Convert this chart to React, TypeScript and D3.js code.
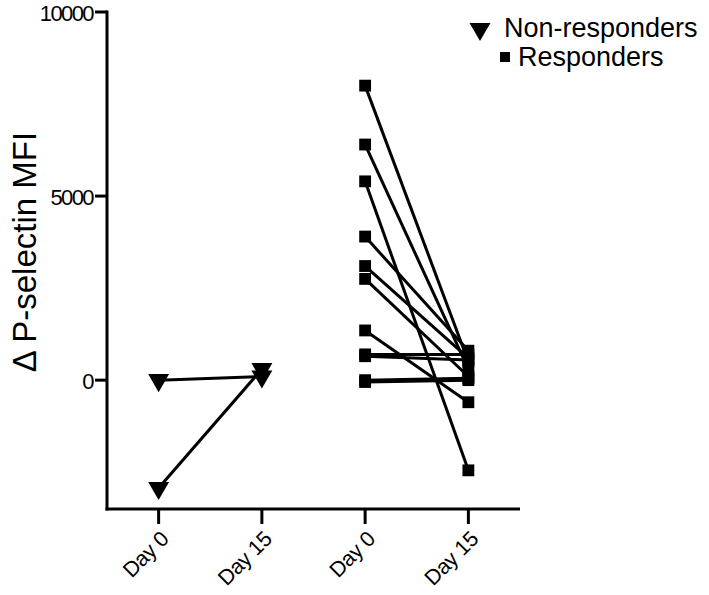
import React from "react";
import * as d3 from "d3";

const categories = ["Day 0", "Day 15", "Day 0", "Day 15"];
const yTicks = [0, 5000, 10000];

// Non-responders: [day0, day15]
const nonRespDay0 = [0, -2930];
const nonRespDay15 = [100, 300];

// Responders: [day0, day15]
const respDay0 = [8000, 6400, 5400, 3900, 3100, 2750, 1350, 700, 650, 0, -50];
const respDay15 = [500, 300, -2450, 800, 600, 100, -600, 700, 550, 50, 0];

const W = 709;
const H = 595;
const axisX = 107;
const axisBottom = 509;
const axisTop = 12;

export default function App() {
  const x = d3.scaleLinear().domain([0.5, 4.5]).range([axisX, 520]);
  const y = d3.scaleLinear().domain([-3500, 10000]).range([axisBottom, axisTop]);
  const tri = d3.symbol().type(d3.symbolTriangle).size(190)();
  const sq = d3.symbol().type(d3.symbolSquare).size(140)();
  const font = "'Liberation Sans', Arial, sans-serif";

  const nonPairs = nonRespDay0.map((v, i) => [v, nonRespDay15[i]]);
  const respPairs = respDay0.map((v, i) => [v, respDay15[i]]);

  return (
    <svg width={W} height={H} style={{ position: "absolute", left: 0, top: 0, background: "#fff" }} fontFamily={font}>
      {/* axes */}
      <line x1={axisX} x2={axisX} y1={axisTop - 1.5} y2={axisBottom + 1.5} stroke="#000" strokeWidth={3} />
      <line x1={axisX - 1.5} x2={520} y1={axisBottom} y2={axisBottom} stroke="#000" strokeWidth={3} />
      {yTicks.map((t) => (
        <g key={t}>
          <line x1={axisX - 12} x2={axisX} y1={y(t)} y2={y(t)} stroke="#000" strokeWidth={3} />
          <text x={axisX - 14} y={y(t)} dy="0.4em" textAnchor="end" fontSize={22} letterSpacing={-1.6}>
            {t}
          </text>
        </g>
      ))}
      {categories.map((c, i) => {
        const cx = x(i + 1);
        return (
          <g key={i}>
            <line x1={cx} x2={cx} y1={axisBottom} y2={axisBottom + 15} stroke="#000" strokeWidth={3} />
            <text
              transform={`translate(${cx + 6},${axisBottom + 26}) rotate(-45)`}
              textAnchor="end"
              dy="0.35em"
              fontSize={21.5}
              letterSpacing={-0.4}
            >
              {c}
            </text>
          </g>
        );
      })}
      <text
        transform={`translate(36,${252}) rotate(-90)`}
        textAnchor="middle"
        fontSize={33}
      >
        Δ P-selectin MFI
      </text>

      {/* non-responders */}
      {nonPairs.map((p, i) => (
        <line key={"nl" + i} x1={x(1)} y1={y(p[0])} x2={x(2)} y2={y(p[1])} stroke="#000" strokeWidth={3} />
      ))}
      {nonPairs.map((p, i) => (
        <g key={"nm" + i}>
          <path d={tri} transform={`translate(${x(1)},${y(p[0])}) rotate(180)`} fill="#000" />
          <path d={tri} transform={`translate(${x(2)},${y(p[1])}) rotate(180)`} fill="#000" />
        </g>
      ))}

      {/* responders */}
      {respPairs.map((p, i) => (
        <line key={"rl" + i} x1={x(3)} y1={y(p[0])} x2={x(4)} y2={y(p[1])} stroke="#000" strokeWidth={3} />
      ))}
      {respPairs.map((p, i) => (
        <g key={"rm" + i}>
          <path d={sq} transform={`translate(${x(3)},${y(p[0])})`} fill="#000" />
          <path d={sq} transform={`translate(${x(4)},${y(p[1])})`} fill="#000" />
        </g>
      ))}

      {/* legend */}
      <path d={tri} transform={`translate(480,29) rotate(180)`} fill="#000" />
      <text x={504} y={37} fontSize={27}>Non-responders</text>
      <rect x={500} y={52} width={10} height={10} fill="#000" />
      <text x={518} y={66} fontSize={27}>Responders</text>
    </svg>
  );
}
